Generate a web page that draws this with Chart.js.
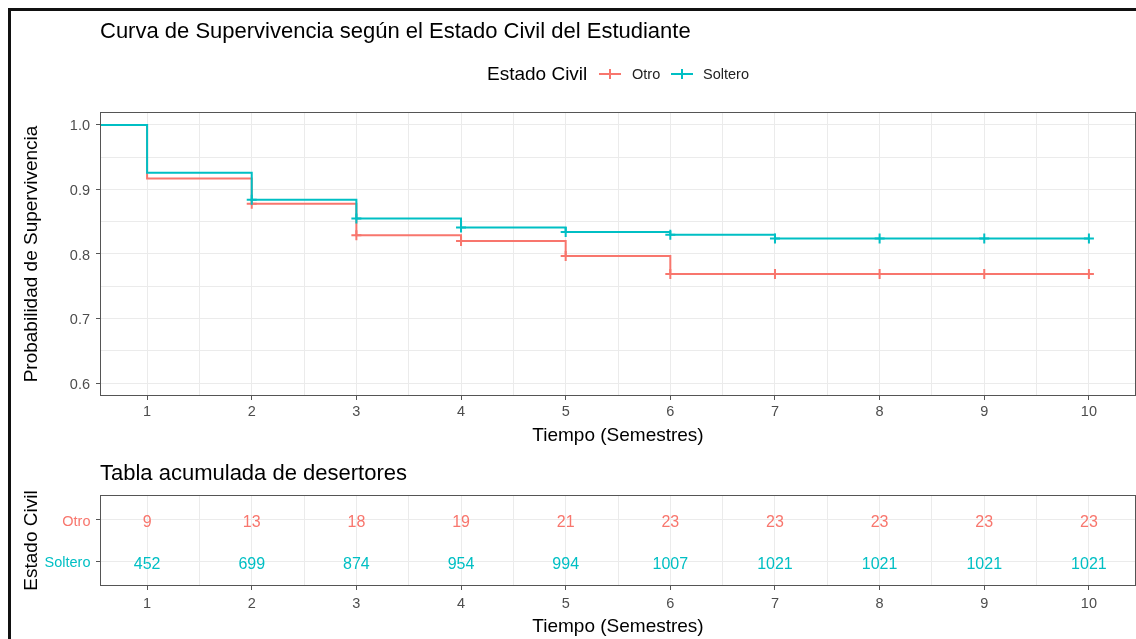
<!DOCTYPE html>
<html lang="es">
<head>
<meta charset="utf-8">
<title>Curva de Supervivencia</title>
<script src="https://cdn.jsdelivr.net/npm/chart.js@4.4.1/dist/chart.umd.min.js"></script>
<style>
  body { margin: 0; width: 1136px; height: 639px; overflow: hidden; background: #fff; position: relative;
         font-family: "Liberation Sans", Arial, sans-serif; }
  #marco { position: absolute; left: 8px; top: 8px; width: 1200px; height: 700px;
           border-left: 3px solid #111; border-top: 3px solid #111; }
  .txt { position: absolute; white-space: nowrap; line-height: 1; color: #000; }
  canvas { position: absolute; left: 0; }
</style>
</head>
<body>
<div id="marco"></div>
<canvas id="curva" width="1136" height="456" style="top:0"></canvas>
<canvas id="tabla" width="1136" height="179" style="top:460px"></canvas>

<div class="txt" style="left:100px; top:20.2px; font-size:22px;">Curva de Supervivencia según el Estado Civil del Estudiante</div>
<div class="txt" style="left:487px; top:64px; font-size:19px;">Estado Civil</div>
<svg style="position:absolute; left:598px; top:67px" width="24" height="14">
  <line x1="1" y1="7" x2="23" y2="7" stroke="#F8766D" stroke-width="2"/>
  <line x1="12" y1="2" x2="12" y2="12" stroke="#F8766D" stroke-width="2"/>
</svg>
<div class="txt" style="left:632px; top:66.9px; font-size:14.5px; color:#222">Otro</div>
<svg style="position:absolute; left:670px; top:67px" width="24" height="14">
  <line x1="1" y1="7" x2="23" y2="7" stroke="#00BFC4" stroke-width="2"/>
  <line x1="12" y1="2" x2="12" y2="12" stroke="#00BFC4" stroke-width="2"/>
</svg>
<div class="txt" style="left:703px; top:66.9px; font-size:14.5px; color:#222">Soltero</div>
<div class="txt" style="left:100px; top:461.8px; font-size:22px;">Tabla acumulada de desertores</div>

<script>
const RED = '#F8766D';
const TEAL = '#00BFC4';
const GRID = '#EBEBEB';
const AXIS = '#555555';
const TICK_TXT = '#4D4D4D';

// curva de supervivencia por grupo
const tiempos = [0, 1, 2, 3, 4, 5, 6, 7, 8, 9, 10];
const survOtro = [1.0, 0.917, 0.878, 0.829, 0.820, 0.797, 0.769, 0.769, 0.769, 0.769, 0.769];
const survSoltero = [1.0, 0.926, 0.884, 0.855, 0.841, 0.834, 0.830, 0.824, 0.824, 0.824, 0.824];
const censuraDesde = 2;

// tabla acumulada de desertores
const semestres = [1, 2, 3, 4, 5, 6, 7, 8, 9, 10];
const desertOtro = [9, 13, 18, 19, 21, 23, 23, 23, 23, 23];
const desertSoltero = [452, 699, 874, 954, 994, 1007, 1021, 1021, 1021, 1021];
const grupos = ['Otro', 'Soltero'];

const xTicks = [1, 2, 3, 4, 5, 6, 7, 8, 9, 10];
const yTicks = [0.6, 0.7, 0.8, 0.9, 1.0];

Chart.defaults.font.family = '"Liberation Sans", Arial, sans-serif';
Chart.defaults.animation = false;

// agrega lineas menores entre cada par de marcas
function conMenores(mayores) {
  const out = [];
  mayores.forEach((v, i) => {
    if (i > 0) out.push((mayores[i - 1] + v) / 2);
    out.push(v);
  });
  return out;
}

const bordePanel = {
  id: 'bordePanel',
  afterDatasetsDraw(chart) {
    const {ctx, chartArea: a} = chart;
    ctx.save();
    ctx.strokeStyle = AXIS;
    ctx.lineWidth = 1;
    ctx.strokeRect(a.left + 0.5, a.top + 0.5, a.right - a.left - 1, a.bottom - a.top - 1);
    ctx.restore();
  }
};

const textoTabla = {
  id: 'textoTabla',
  afterDatasetsDraw(chart) {
    const ctx = chart.ctx;
    ctx.save();
    ctx.font = '16px "Liberation Sans", Arial, sans-serif';
    ctx.textAlign = 'center';
    ctx.textBaseline = 'alphabetic';
    chart.data.datasets.forEach((ds, i) => {
      chart.getDatasetMeta(i).data.forEach((pt, j) => {
        ctx.fillStyle = ds.borderColor;
        ctx.fillText(String(ds.data[j].n), pt.x, pt.y + 7.5);
      });
    });
    ctx.restore();
  }
};

function ejeX(alto, padTicks, padTitulo) {
  return {
    type: 'linear',
    min: 0.55,
    max: 10.45,
    afterBuildTicks: s => { s.ticks = conMenores(xTicks).map(v => ({value: v})); },
    afterFit: s => { s.height = alto; },
    grid: {
      color: GRID, lineWidth: 1, tickLength: 4,
      tickColor: c => (c.tick && xTicks.includes(c.tick.value)) ? AXIS : 'rgba(0,0,0,0)'
    },
    border: { display: false },
    ticks: {
      autoSkip: false, maxRotation: 0, padding: padTicks, color: TICK_TXT, font: { size: 14.5 },
      callback: v => xTicks.includes(v) ? String(v) : ''
    },
    title: { display: true, text: 'Tiempo (Semestres)', color: '#000', font: { size: 19 },
             padding: { top: 0, bottom: padTitulo } }
  };
}

function serie(valores, grupo, color, orden) {
  return {
    label: grupo,
    data: tiempos.map((t, i) => ({x: t, y: valores[i]})),
    borderColor: color,
    backgroundColor: color,
    borderWidth: 2,
    stepped: 'before',
    fill: false,
    order: orden,
    pointStyle: 'cross',
    pointRadius: tiempos.map(t => t >= censuraDesde ? 5 : 0),
    pointBorderWidth: 2,
    pointBorderColor: color
  };
}

new Chart(document.getElementById('curva'), {
  type: 'line',
  data: {
    datasets: [
      serie(survOtro, 'Otro', RED, 1),
      serie(survSoltero, 'Soltero', TEAL, 0)
    ]
  },
  options: {
    responsive: false,
    layout: { autoPadding: false, padding: { top: 112, right: 0, bottom: 0, left: 0 } },
    plugins: { legend: { display: false }, tooltip: { enabled: false } },
    scales: {
      x: ejeX(60, 3.5, 8.6),
      y: {
        type: 'linear',
        min: 0.58,
        max: 1.02,
        afterBuildTicks: s => { s.ticks = conMenores(yTicks).map(v => ({value: v})); },
        afterFit: s => { s.width = 100; },
        grid: {
          color: GRID, lineWidth: 1, tickLength: 4,
          tickColor: c => (c.tick && yTicks.includes(c.tick.value)) ? AXIS : 'rgba(0,0,0,0)'
        },
        border: { display: false },
        ticks: {
          autoSkip: false, padding: 6, labelOffset: 1.5, color: TICK_TXT, font: { size: 14.5 },
          callback: v => yTicks.includes(v) ? v.toFixed(1) : ''
        },
        title: { display: true, text: 'Probabilidad de Supervivencia', color: '#000', font: { size: 19 },
                 padding: { top: 20.3, bottom: 0 } }
      }
    }
  },
  plugins: [bordePanel]
});

function filaTabla(conteos, grupo, color) {
  const fila = grupos.length - grupos.indexOf(grupo);
  return {
    label: grupo,
    data: semestres.map((t, i) => ({x: t, y: fila, n: conteos[i]})),
    borderColor: color,
    backgroundColor: color,
    showLine: false,
    pointRadius: 0
  };
}

new Chart(document.getElementById('tabla'), {
  type: 'scatter',
  data: {
    datasets: [
      filaTabla(desertOtro, 'Otro', RED),
      filaTabla(desertSoltero, 'Soltero', TEAL)
    ]
  },
  options: {
    responsive: false,
    layout: { autoPadding: false, padding: { top: 35, right: 0, bottom: 0, left: 0 } },
    plugins: { legend: { display: false }, tooltip: { enabled: false } },
    scales: {
      x: ejeX(53, 5.5, 0.6),
      y: {
        type: 'linear',
        min: 0.4,
        max: 2.6,
        afterBuildTicks: s => { s.ticks = [1, 2].map(v => ({value: v})); },
        afterFit: s => { s.width = 100; },
        grid: { color: GRID, lineWidth: 1, tickLength: 4, tickColor: AXIS },
        border: { display: false },
        ticks: {
          autoSkip: false, padding: 5.5, labelOffset: 2, font: { size: 14.5 },
          color: c => (c.tick && c.tick.value === 2) ? RED : TEAL,
          callback: v => grupos[grupos.length - v]
        },
        title: { display: true, text: 'Estado Civil', color: '#000', font: { size: 19 },
                 padding: { top: 20.3, bottom: 0 } }
      }
    }
  },
  plugins: [bordePanel, textoTabla]
});
</script>
</body>
</html>
